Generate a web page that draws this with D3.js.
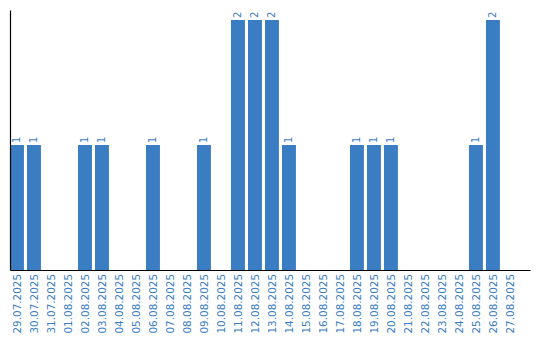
<!DOCTYPE html>
<html>
<head>
<meta charset="utf-8">
<script src="https://cdn.jsdelivr.net/npm/d3@7"></script>
<style>
  body { margin: 0; background: #fff; }
  text { font-family: "DejaVu Sans", Verdana, sans-serif; }
</style>
</head>
<body>
<div id="chart"></div>
<script>
// dates and counts per day
var dates = ["29.07.2025","30.07.2025","31.07.2025","01.08.2025","02.08.2025","03.08.2025",
  "04.08.2025","05.08.2025","06.08.2025","07.08.2025","08.08.2025","09.08.2025","10.08.2025",
  "11.08.2025","12.08.2025","13.08.2025","14.08.2025","15.08.2025","16.08.2025","17.08.2025",
  "18.08.2025","19.08.2025","20.08.2025","21.08.2025","22.08.2025","23.08.2025","24.08.2025",
  "25.08.2025","26.08.2025","27.08.2025"];
var counts = [1,1,0,0,1,1,0,0,1,0,0,1,0,2,2,2,1,0,0,0,1,1,1,0,0,0,0,1,2,0];

var data = dates.map(function(d, i) { return {date: d, n: counts[i]}; });

const W = 540, H = 340;
const margin = {top: 10, right: 10, bottom: 70, left: 10};
const blue = "#3a7dc2";

const svg = d3.select("#chart")
  .append("svg")
    .attr("width", W)
    .attr("height", H);

const x = d3.scaleBand()
  .domain(dates)
  .range([margin.left, W - margin.right])
  .paddingInner(0.18)
  .paddingOuter(0.385)
  .align(0);

const y = d3.scaleLinear()
  .domain([0, 2.08])
  .range([H - margin.bottom, margin.top]);

// bars
svg.selectAll(".bar")
  .data(data)
  .join("rect")
    .attr("class", "bar")
    .attr("x", function(d) { return x(d.date); })
    .attr("y", function(d) { return y(d.n); })
    .attr("width", x.bandwidth())
    .attr("height", function(d) { return y(0) - y(d.n); })
    .attr("fill", blue);

// value labels above bars
svg.selectAll(".val")
  .data(data.filter(function(d) { return d.n > 0; }))
  .join("text")
    .attr("class", "val")
    .attr("transform", function(d) {
      return `translate(${x(d.date) + x.bandwidth()/2 + 3.5},${y(d.n) - 2}) rotate(-90)`;
    })
    .attr("fill", blue)
    .style("font-size", "10px")
    .text(function(d) { return d.n; });

// x axis
const xAxis = svg.append("g")
  .attr("transform", `translate(0,${H - margin.bottom})`)
  .call(d3.axisBottom(x).tickSize(0).tickSizeOuter(0));
xAxis.select(".domain").attr("stroke", "#000").attr("stroke-width", 1.2);
xAxis.selectAll("text")
  .attr("fill", blue)
  .style("font-size", "10.4px")
  .style("text-anchor", "end")
  .attr("transform", "rotate(-90)")
  .attr("x", -4)
  .attr("y", 0)
  .attr("dy", "0.35em");

// y axis line only
const yAxis = svg.append("g")
  .attr("transform", `translate(${margin.left},0)`)
  .call(d3.axisLeft(y).ticks(0).tickSize(0).tickSizeOuter(0));
yAxis.select(".domain").attr("stroke", "#000").attr("stroke-width", 1.2);
yAxis.selectAll(".tick").remove();
</script>
</body>
</html>
